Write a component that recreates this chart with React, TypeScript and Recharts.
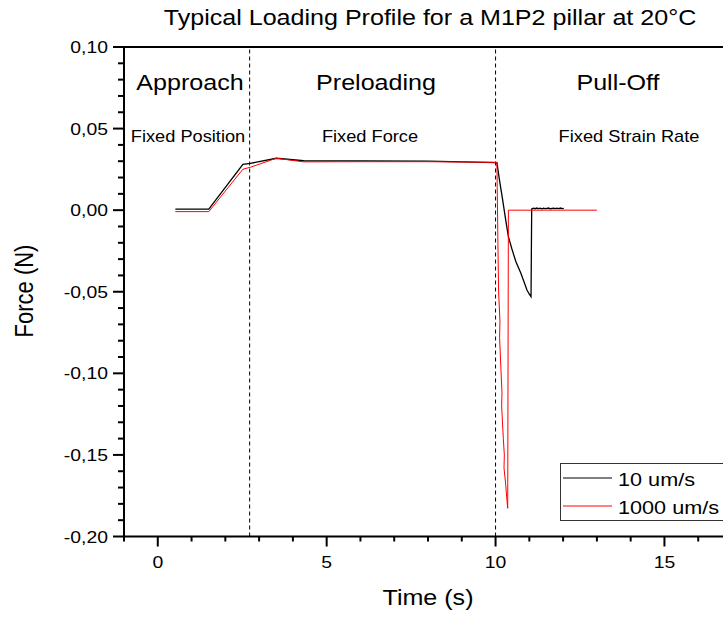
import { LineChart, Line, XAxis, YAxis, ReferenceLine, Legend, Customized } from 'recharts';

// 10 um/s run (black)
const slowTime = [
	0.52, 1.51, 2.52, 2.74, 3.51, 4.32, 6.0, 8.0, 10.04, 10.12, 10.21, 10.3, 10.38, 10.48, 10.6, 10.75, 10.93, 11.0,
	11.05, 11.07, 11.12, 11.17, 11.22, 11.27, 11.32, 11.37, 11.42, 11.47, 11.52, 11.57, 11.62, 11.67, 11.72, 11.77,
	11.82, 11.87, 11.92, 11.97, 12.02,
];
const slowForce = [
	0.0006, 0.0006, 0.0281, 0.0287, 0.0318, 0.0303, 0.0302, 0.03, 0.0292, 0.018, 0.0063, -0.006, -0.0162, -0.0235,
	-0.0315, -0.0387, -0.0489, -0.0515, -0.053, 0.0008, 0.0012, 0.0009, 0.0013, 0.001, 0.0012, 0.0008, 0.0012, 0.0009,
	0.0011, 0.0013, 0.0008, 0.0011, 0.0012, 0.0009, 0.0012, 0.001, 0.0013, 0.0009, 0.0011,
];

// 1000 um/s run (red)
const fastTime = [
	0.52, 1.51, 2.52, 2.74, 3.51, 4.32, 6.0, 8.0, 10.04, 10.07, 10.09, 10.13, 10.12, 10.16, 10.19, 10.18, 10.23, 10.26,
	10.25, 10.3, 10.33, 10.36, 10.38, 13.0,
];
const fastForce = [
	-0.0009, -0.0009, 0.0251, 0.0263, 0.0318, 0.0296, 0.0297, 0.0297, 0.0293, -0.02, -0.05, -0.068, -0.078, -0.098,
	-0.112, -0.12, -0.14, -0.15, -0.158, -0.168, -0.176, -0.1827, 0, 0,
];

const seriesNames = ['10 um/s', '1000 um/s'];
const seriesColors = ['#000000', '#ff0000'];

const xTicks = [-1, 0, 1, 2, 3, 4, 5, 6, 7, 8, 9, 10, 11, 12, 13, 14, 15, 16, 17];
const yTicks = [
	-0.2, -0.19, -0.18, -0.17, -0.16, -0.15, -0.14, -0.13, -0.12, -0.11, -0.1, -0.09, -0.08, -0.07, -0.06, -0.05, -0.04,
	-0.03, -0.02, -0.01, 0, 0.01, 0.02, 0.03, 0.04, 0.05, 0.06, 0.07, 0.08, 0.09, 0.1,
];

// phase boundaries (s) and their labels
const phaseBounds = [2.72, 10];
const phaseTitles = ['Approach', 'Preloading', 'Pull-Off'];
const phaseModes = ['Fixed Position', 'Fixed Force', 'Fixed Strain Rate'];

const FONT = '"Liberation Sans", Arial, sans-serif';
const STRETCH = 1.14; // the original figure is a bit wider than tall

const slowData = slowTime.map((t, i) => ({ t, f: slowForce[i] }));
const fastData = fastTime.map((t, i) => ({ t, f: fastForce[i] }));

function SText({ x, y, size, anchor = 'middle', children }: any) {
	return (
		<text
			transform={`translate(${x},${y}) scale(${STRETCH},1)`}
			fontSize={size}
			fontFamily={FONT}
			textAnchor={anchor}
			fill="#000"
		>
			{children}
		</text>
	);
}

function XTick({ x, y, payload }: any) {
	const major = payload.value % 5 === 0;
	return (
		<g>
			<line x1={x} x2={x} y1={y} y2={y + (major ? 10 : 5)} stroke="#000" strokeWidth={2} />
			{major && (
				<SText x={x} y={y + 31.5} size={17}>
					{payload.value}
				</SText>
			)}
		</g>
	);
}

function YTick({ x, y, payload }: any) {
	const hundredths = Math.round(payload.value * 100);
	const major = hundredths % 5 === 0;
	return (
		<g>
			<line x1={x - (major ? 11 : 6)} x2={x} y1={y} y2={y} stroke="#000" strokeWidth={2} />
			{major && (
				<SText x={x - 16} y={y + 6} size={17} anchor="end">
					{(hundredths / 100).toFixed(2).replace('.', ',')}
				</SText>
			)}
		</g>
	);
}

function LegendBox({ payload }: any) {
	return (
		<div style={{ width: 180, height: 56, border: '1px solid #333', background: '#fff' }}>
			<svg width={180} height={56}>
				{(payload || []).map((entry: any, i: number) => (
					<g key={entry.value}>
						<line x1={2} x2={51} y1={14 + i * 28} y2={14 + i * 28} stroke={entry.color} strokeWidth={1} />
						<SText x={57} y={22 + i * 27.5} size={19} anchor="start">
							{entry.value}
						</SText>
					</g>
				))}
			</svg>
		</div>
	);
}

function Annotations() {
	const titleX = [190, 376, 618];
	const modeX = [188, 370, 629];
	return (
		<g>
			<SText x={430} y={25} size={22}>
				Typical Loading Profile for a M1P2 pillar at 20°C
			</SText>
			{phaseTitles.map((p, i) => (
				<SText key={p} x={titleX[i]} y={90} size={22}>
					{p}
				</SText>
			))}
			{phaseModes.map((p, i) => (
				<SText key={p} x={modeX[i]} y={142} size={16}>
					{p}
				</SText>
			))}
			<SText x={428} y={605} size={22}>
				Time (s)
			</SText>
			<text
				transform={`translate(33,291) rotate(-90) scale(1,${STRETCH})`}
				fontSize={22}
				fontFamily={FONT}
				textAnchor="middle"
				fill="#000"
			>
				Force (N)
			</text>
		</g>
	);
}

export default function App() {
	return (
		<div
			style={{
				position: 'absolute',
				left: 0,
				top: 0,
				width: 723,
				height: 617,
				overflow: 'hidden',
				background: '#fff',
			}}
		>
			<LineChart width={740} height={617} margin={{ top: 47, right: 8, bottom: 50.5, left: 64 }}>
				<XAxis
					type="number"
					dataKey="t"
					domain={[-1, 17]}
					ticks={xTicks}
					interval={0}
					height={30}
					tickSize={0}
					tickMargin={0}
					tickLine={false}
					axisLine={{ stroke: '#000', strokeWidth: 2 }}
					tick={(p: any) => <XTick {...p} />}
				/>
				<YAxis
					type="number"
					domain={[-0.2, 0.1]}
					ticks={yTicks}
					interval={0}
					width={60}
					tickSize={0}
					tickMargin={0}
					tickLine={false}
					allowDataOverflow
					axisLine={{ stroke: '#000', strokeWidth: 2 }}
					tick={(p: any) => <YTick {...p} />}
				/>
				<ReferenceLine y={0.1} stroke="#000" strokeWidth={2} />
				{phaseBounds.map((b) => (
					<ReferenceLine key={b} x={b} stroke="#000" strokeWidth={1} strokeDasharray="4 3" />
				))}
				<Line
					data={slowData}
					dataKey="f"
					name={seriesNames[0]}
					type="linear"
					stroke={seriesColors[0]}
					strokeWidth={1.3}
					dot={false}
					isAnimationActive={false}
				/>
				<Line
					data={fastData}
					dataKey="f"
					name={seriesNames[1]}
					type="linear"
					stroke={seriesColors[1]}
					strokeWidth={1}
					dot={false}
					isAnimationActive={false}
				/>
				<Legend
					layout="vertical"
					align="center"
					verticalAlign="middle"
					wrapperStyle={{ left: 560, top: 463 }}
					content={(p: any) => <LegendBox {...p} />}
				/>
				<Customized component={<Annotations />} />
			</LineChart>
		</div>
	);
}
